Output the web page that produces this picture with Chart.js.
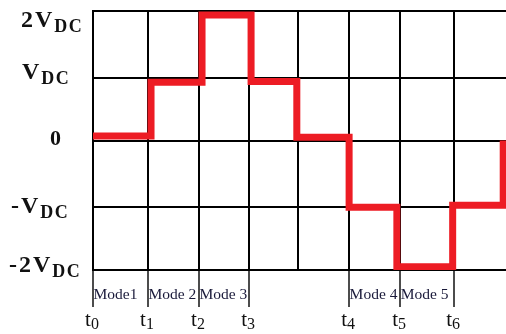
<!DOCTYPE html>
<html>
<head>
<meta charset="utf-8">
<script src="https://cdn.jsdelivr.net/npm/chart.js@4.4.1/dist/chart.umd.min.js"></script>
<style>
  html, body { margin: 0; padding: 0; background: #fff; }
  #wrap { position: relative; width: 506px; height: 334px; overflow: hidden; background: #fff; }
  #c { position: absolute; left: 0; top: 0; }
  #overlay { position: absolute; left: 0; top: 0; width: 506px; height: 334px; pointer-events: none; }
  .lbl { position: absolute; white-space: nowrap; line-height: 1; font-family: "Liberation Serif", "Times New Roman", serif; }
  .ylab { font-weight: bold; font-size: 24px; color: #111; letter-spacing: 2px; }
  .ylab .sub { position: relative; top: 5px; font-size: 18px; letter-spacing: 1.5px; }
  .ylab.zero { font-size: 22px; }
  .tlab { font-size: 21px; color: #111; transform: translateX(-50%); }
  .tlab .sub { position: relative; top: 3px; font-size: 16px; }
  .mlab { font-size: 15.5px; color: #1a1a3a; }
</style>
</head>
<body>
<div id="wrap">
  <canvas id="c" width="506" height="334"></canvas>
  <div id="overlay"></div>
</div>
<script>
// ---- data ----
// vertical grid line positions (time axis units, one unit = one grid column)
const gridX = [0, 1.066, 2.054, 3.023, 3.973, 4.961, 5.95, 6.996, 8];
// horizontal grid line positions (voltage levels in units of V_DC)
const gridY = [-2, -1.03, 0, 0.97, 2];
// voltage level tick labels (main part + subscript)
const yLabelMain = ['-2V', '-V', '0', 'V', '2V'];
const yLabelSub  = ['DC', 'DC', '', 'DC', 'DC'];
// time instants
const timeLabels = ['0', '1', '2', '3', '4', '5', '6'];
const timeAt     = [0, 1.066, 2.054, 3.023, 4.961, 5.95, 6.996];
// mode labels and where each one starts
const modeLabels = ['Mode1', 'Mode 2', 'Mode 3', 'Mode 4', 'Mode 5'];
const modeStart  = [0, 1.066, 2.054, 4.961, 5.95];
// output voltage staircase (step changes)
const stepX = [0, 1.124, 2.112, 3.062, 3.948, 4.961, 5.886, 6.967, 7.946];
const stepY = [0.07, 0.90, 1.94, 0.91, 0.05, -1.03, -1.95, -1.00, 0];

// ---- layout (styling only) ----
const yLabelLeft = [9, 11, 50, 22, 21];
const yLabelDy   = [2, 6, 5, 1, 16];

const overlay = document.getElementById('overlay');

function makeLabel(cls, main, sub) {
  const el = document.createElement('div');
  el.className = 'lbl ' + cls;
  el.appendChild(document.createTextNode(main));
  if (sub) {
    const s = document.createElement('span');
    s.className = 'sub';
    s.textContent = sub;
    el.appendChild(s);
  }
  overlay.appendChild(el);
  return el;
}
function placeBaseline(el, left, baseline, fs) {
  el.style.left = left + 'px';
  el.style.top = (baseline - 0.8375 * fs) + 'px';
}

const labelPlugin = {
  id: 'labelPlugin',
  afterDraw(chart) {
    overlay.innerHTML = '';
    const xs = chart.scales.x, ys = chart.scales.y;
    gridY.forEach((v, i) => {
      const fs = yLabelSub[i] ? 24 : 22;
      const el = makeLabel('ylab' + (yLabelSub[i] ? '' : ' zero'), yLabelMain[i], yLabelSub[i]);
      placeBaseline(el, yLabelLeft[i], ys.getPixelForValue(v) + yLabelDy[i], fs);
    });
    const base = chart.chartArea.bottom;
    timeAt.forEach((v, i) => {
      const el = makeLabel('tlab', 't', timeLabels[i]);
      placeBaseline(el, xs.getPixelForValue(v) - 1, base + 57, 21);
    });
    modeStart.forEach((v, i) => {
      const el = makeLabel('mlab', modeLabels[i], '');
      placeBaseline(el, xs.getPixelForValue(v) + 0.5, base + 28.7, 15.5);
    });
  }
};

const isTimeTick = (val) => timeAt.some(t => Math.abs(t - val) < 1e-6);

new Chart(document.getElementById('c').getContext('2d'), {
  type: 'line',
  data: {
    datasets: [{
      data: stepX.map((x, i) => ({ x: x, y: stepY[i] })),
      stepped: 'before',
      borderColor: '#ed1c24',
      borderWidth: 7,
      borderJoinStyle: 'miter',
      borderCapStyle: 'butt',
      pointRadius: 0,
      fill: false,
      tension: 0
    }]
  },
  options: {
    responsive: false,
    animation: false,
    events: [],
    layout: { padding: { top: 11, right: 0, bottom: 0, left: 0 } },
    plugins: { legend: { display: false }, tooltip: { enabled: false } },
    scales: {
      x: {
        type: 'linear',
        min: 0,
        max: 8,
        afterBuildTicks: (s) => { s.ticks = gridX.map(v => ({ value: v })); },
        afterFit: (s) => { s.height = 64; },
        ticks: { display: false },
        grid: {
          color: (c) => (c.index === gridX.length - 1 ? 'rgba(0,0,0,0)' : '#000'),
          lineWidth: 2,
          drawTicks: true,
          tickLength: 37,
          tickWidth: 1.5,
          tickColor: (c) => (c.tick && isTimeTick(c.tick.value) ? '#111' : 'rgba(0,0,0,0)')
        },
        border: { display: true, color: '#000', width: 2 }
      },
      y: {
        type: 'linear',
        min: -2,
        max: 2,
        afterBuildTicks: (s) => { s.ticks = gridY.map(v => ({ value: v })); },
        afterFit: (s) => { s.width = 93; },
        ticks: { display: false },
        grid: { color: '#000', lineWidth: 2, drawTicks: false },
        border: { display: true, color: '#000', width: 2 }
      }
    }
  },
  plugins: [labelPlugin]
});
</script>
</body>
</html>
